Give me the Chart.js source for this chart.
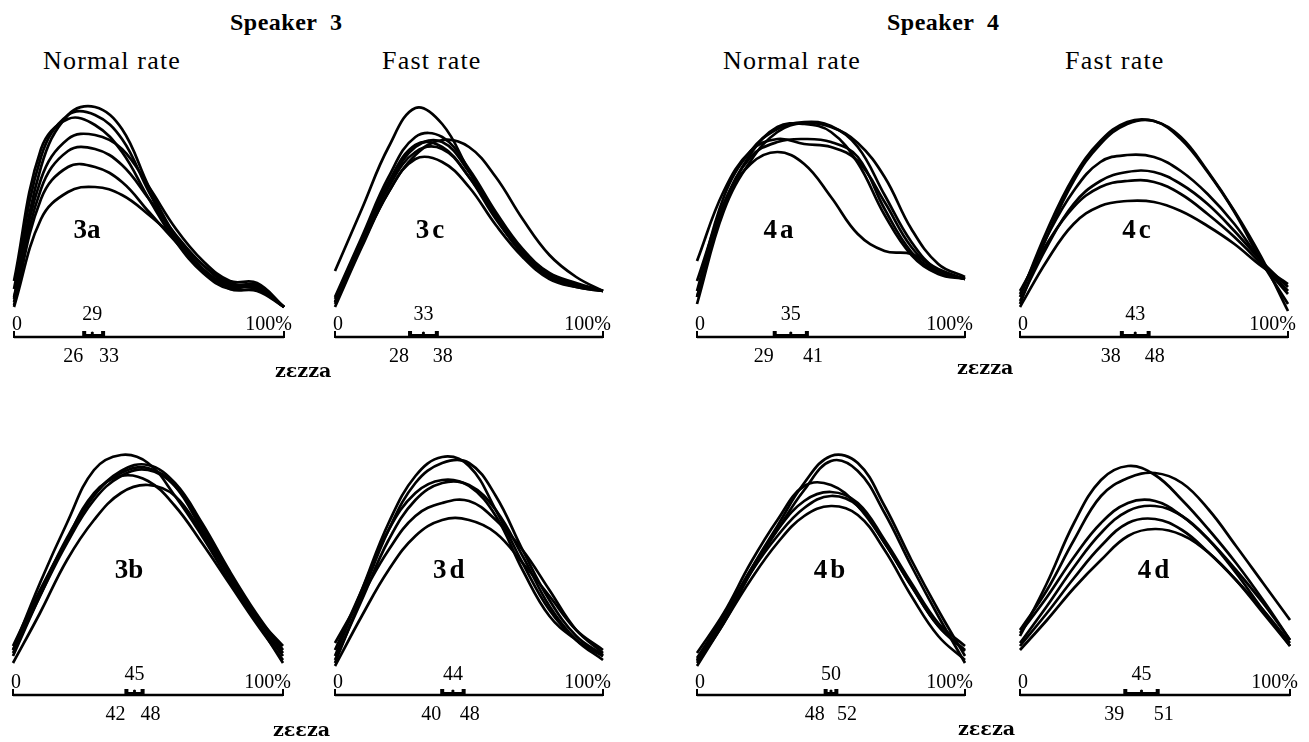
<!DOCTYPE html>
<html>
<head>
<meta charset="utf-8">
<script src="https://cdn.jsdelivr.net/npm/chart.js@4.4.1/dist/chart.umd.min.js"></script>
<style>
  body { margin: 0; background: #fff; width: 1309px; height: 742px; position: relative; overflow: hidden; }
  canvas { position: absolute; }
  .t { position: absolute; color: #000; white-space: pre; line-height: 1; font-family: "Liberation Serif", serif; }
  .spk { font-weight: bold; font-size: 24px; letter-spacing: 0.5px; }
  .rate { font-size: 26px; letter-spacing: 1.2px; }
  .word { font-family: "DejaVu Serif", serif; font-weight: bold; font-size: 19px; }
</style>
</head>
<body>
<script>
// time axis, percent of word duration
var pct = [0, 10, 20, 30, 40, 50, 60, 70, 80, 90, 100];

// speaker 3, zezza, normal rate
var curves3a = [
  [38, 170, 222, 230, 208, 150, 100, 68, 52, 52, 30],
  [48, 180, 222, 222, 198, 145, 98, 66, 50, 50, 30],
  [56, 188, 218, 212, 185, 138, 95, 64, 48, 52, 30],
  [40, 158, 198, 202, 188, 150, 108, 76, 56, 54, 30],
  [35, 148, 186, 188, 172, 138, 102, 72, 52, 48, 30],
  [32, 138, 170, 170, 155, 125, 95, 68, 48, 46, 30],
  [30, 118, 145, 150, 142, 122, 98, 72, 54, 50, 30]
];
// speaker 3, zezza, fast rate
var curves3c = [
  [66, 128, 190, 229, 213, 166, 120, 83, 63, 53, 46],
  [40, 100, 160, 200, 200, 168, 125, 88, 64, 54, 46],
  [35, 95, 152, 190, 195, 165, 122, 86, 62, 52, 46],
  [35, 92, 145, 182, 197, 190, 160, 118, 82, 60, 46],
  [33, 95, 150, 185, 188, 160, 120, 84, 60, 50, 46],
  [30, 90, 145, 178, 175, 150, 112, 80, 58, 50, 46],
  [38, 98, 155, 192, 190, 160, 118, 84, 62, 52, 46]
];
// speaker 4, zezza, normal rate
var curves4a = [
  [40, 133, 173, 185, 173, 140, 103, 86, 83, 68, 58],
  [46, 140, 186, 208, 215, 211, 190, 142, 95, 66, 58],
  [33, 126, 176, 205, 214, 210, 194, 160, 108, 73, 60],
  [76, 146, 186, 198, 193, 190, 176, 135, 90, 66, 58],
  [56, 133, 180, 195, 198, 195, 180, 128, 85, 65, 58],
  [40, 130, 183, 210, 213, 205, 174, 122, 82, 63, 58]
];
// speaker 4, zezza, fast rate
var curves4c = [
  [40, 106, 160, 196, 215, 216, 200, 166, 126, 80, 26],
  [33, 100, 156, 193, 213, 216, 198, 165, 125, 76, 33],
  [43, 100, 146, 175, 182, 180, 166, 143, 113, 76, 46],
  [36, 90, 133, 156, 165, 165, 153, 133, 106, 76, 50],
  [46, 93, 130, 150, 156, 155, 143, 123, 100, 73, 43],
  [30, 76, 113, 131, 136, 135, 126, 111, 93, 71, 53]
];
// speaker 3, zeeza, normal rate
var curves3b = [
  [45, 112, 172, 225, 240, 232, 199, 159, 115, 75, 39],
  [49, 105, 155, 199, 224, 230, 212, 172, 125, 82, 45],
  [42, 99, 152, 195, 219, 225, 209, 169, 122, 79, 42],
  [39, 99, 155, 202, 219, 214, 189, 152, 112, 72, 35],
  [32, 82, 135, 175, 202, 210, 199, 162, 119, 75, 32],
  [45, 102, 157, 200, 222, 227, 209, 165, 120, 79, 49]
];
// speaker 3, zeeza, fast rate
var curves3d = [
  [39, 105, 172, 219, 238, 229, 185, 132, 85, 55, 39],
  [32, 99, 165, 212, 232, 232, 199, 145, 95, 59, 40],
  [45, 105, 165, 202, 215, 209, 179, 125, 79, 55, 39],
  [35, 95, 155, 195, 212, 210, 185, 139, 89, 55, 35],
  [52, 99, 145, 179, 192, 194, 175, 145, 105, 65, 42],
  [29, 79, 125, 159, 175, 175, 162, 132, 99, 65, 45]
];
// speaker 4, zeeza, normal rate
var curves4b = [
  [35, 75, 125, 169, 212, 239, 232, 189, 135, 85, 39],
  [32, 72, 122, 165, 205, 234, 224, 182, 129, 79, 32],
  [42, 82, 132, 175, 209, 210, 189, 152, 109, 69, 45],
  [37, 79, 125, 165, 194, 203, 192, 155, 112, 72, 49],
  [34, 77, 122, 159, 187, 199, 189, 152, 109, 69, 44],
  [29, 72, 115, 152, 179, 189, 180, 145, 99, 59, 35]
];
// speaker 4, zeeza, fast rate
var curves4d = [
  [59, 112, 172, 215, 229, 220, 195, 165, 132, 95, 55],
  [65, 105, 155, 199, 217, 222, 212, 185, 149, 112, 75],
  [62, 98, 138, 172, 192, 194, 179, 155, 125, 92, 55],
  [52, 89, 128, 162, 184, 189, 179, 155, 122, 85, 49],
  [49, 82, 117, 149, 172, 176, 165, 142, 115, 85, 52],
  [45, 75, 107, 135, 159, 166, 160, 142, 115, 82, 49]
];

// consonant interval marks: [start, mean, end] in percent
var marks3a = [26, 29, 33];
var marks3c = [28, 33, 38];
var marks4a = [29, 35, 41];
var marks4c = [38, 43, 48];
var marks3b = [42, 45, 48];
var marks3d = [40, 44, 48];
var marks4b = [48, 50, 52];
var marks4d = [39, 45, 51];

var axisLabels = ['0', '100%'];

// plugin: time axis with interval bracket and panel label
var axisMarks = {
  id: 'axisMarks',
  afterDatasetsDraw: function(chart, args, opts) {
    var ctx = chart.ctx;
    var xs = chart.scales.x, ys = chart.scales.y;
    var y0 = ys.getPixelForValue(0);
    var x0 = xs.getPixelForValue(0), x1 = xs.getPixelForValue(100);
    var xl = xs.getPixelForValue(opts.marks[0]);
    var xm = xs.getPixelForValue(opts.marks[1]);
    var xh = xs.getPixelForValue(opts.marks[2]);
    ctx.save();
    ctx.fillStyle = '#000';
    ctx.strokeStyle = '#000';
    ctx.lineWidth = 2.5;
    ctx.beginPath();
    ctx.moveTo(x0, y0); ctx.lineTo(x1, y0);
    ctx.stroke();
    ctx.lineWidth = 2;
    ctx.beginPath();
    ctx.moveTo(x0, y0 - 6); ctx.lineTo(x0, y0 + 1);
    ctx.moveTo(x1, y0 - 6); ctx.lineTo(x1, y0 + 1);
    ctx.stroke();
    // bracket
    ctx.fillRect(xl - 2, y0 - 6, 4, 6);
    ctx.fillRect(xh - 2, y0 - 6, 4, 6);
    ctx.fillRect(xl, y0 - 3, xh - xl, 3);
    ctx.beginPath();
    ctx.arc(xm, y0 - 4, 1.6, 0, Math.PI * 2);
    ctx.fill();

    ctx.font = '20px "Liberation Serif"';
    ctx.textBaseline = 'alphabetic';
    ctx.textAlign = 'left';
    ctx.fillText(axisLabels[0], x0 - 2, y0 - 7);
    ctx.textAlign = 'right';
    ctx.fillText(axisLabels[1], x1 + 8, y0 - 7);
    ctx.textAlign = 'center';
    ctx.fillText(String(opts.marks[1]), xm, y0 - opts.midLift);
    ctx.textAlign = 'right';
    ctx.fillText(String(opts.marks[0]), xl - 1, y0 + 25);
    ctx.textAlign = 'left';
    ctx.fillText(String(opts.marks[2]), Math.max(xh - 4, xm + 6), y0 + 25);

    // panel label
    ctx.font = 'bold 27px "Liberation Serif"';
    ctx.textAlign = 'center';
    ctx.letterSpacing = opts.gap + 'px';
    ctx.fillText(opts.label, xs.getPixelForValue(opts.labelAt[0]), ys.getPixelForValue(opts.labelAt[1]));
    ctx.restore();
  }
};

function panel(curves, marks, label, gap, labelAt, L, R, A, midLift) {
  var cv = document.createElement('canvas');
  var w = (R - L) + 50, h = 300;
  cv.width = w; cv.height = h;
  cv.style.left = (L - 20) + 'px';
  cv.style.top = (A - 260) + 'px';
  document.body.appendChild(cv);
  new Chart(cv, {
    type: 'line',
    data: {
      datasets: curves.map(function(c) {
        return {
          data: c.map(function(v, i) { return { x: pct[i], y: v }; }),
          borderColor: '#000',
          borderWidth: 2.7,
          pointRadius: 0,
          tension: 0.4,
          fill: false,
          clip: false
        };
      })
    },
    options: {
      responsive: false,
      animation: false,
      events: [],
      layout: { padding: { left: 20, right: 30, top: 0, bottom: 40 } },
      scales: {
        x: { type: 'linear', min: 0, max: 100, display: false },
        y: { min: 0, max: 260, display: false }
      },
      plugins: {
        legend: { display: false },
        tooltip: { enabled: false },
        axisMarks: { marks: marks, label: label, gap: gap, labelAt: labelAt, midLift: midLift }
      }
    },
    plugins: [axisMarks]
  });
}

panel(curves3a, marks3a, '3a', 0, [27, 99], 14, 284, 337, 17);
panel(curves3c, marks3c, '3c', 3, [36, 99], 335, 603, 337, 17);
panel(curves4a, marks4a, '4a', 3, [31, 99], 697, 965, 337, 17);
panel(curves4c, marks4c, '4c', 3, [44, 99], 1020, 1288, 337, 17);
panel(curves3b, marks3b, '3b', 0, [43, 117], 13, 283, 695, 15);
panel(curves3d, marks3d, '3d', 3, [43, 117], 335, 603, 695, 15);
panel(curves4b, marks4b, '4b', 3, [50, 117], 697, 965, 695, 15);
panel(curves4d, marks4d, '4d', 3, [50, 117], 1020, 1290, 695, 15);

// headings and word labels
function text(str, cls, left, baseline, size) {
  var d = document.createElement('div');
  d.className = 't ' + cls;
  d.textContent = str;
  d.style.left = left + 'px';
  d.style.top = (baseline - 0.84 * size) + 'px';
  document.body.appendChild(d);
}
text('Speaker  3', 'spk', 230, 30, 24);
text('Speaker  4', 'spk', 887, 30, 24);
text('Normal rate', 'rate', 43, 70, 26);
text('Fast rate', 'rate', 382, 70, 26);
text('Normal rate', 'rate', 723, 70, 26);
text('Fast rate', 'rate', 1065, 70, 26);
text('zɛzza', 'word', 275, 377, 19);
text('zɛzza', 'word', 957, 374, 19);
text('zɛɛza', 'word', 273, 736, 19);
text('zɛɛza', 'word', 958, 735, 19);
</script>
</body>
</html>
